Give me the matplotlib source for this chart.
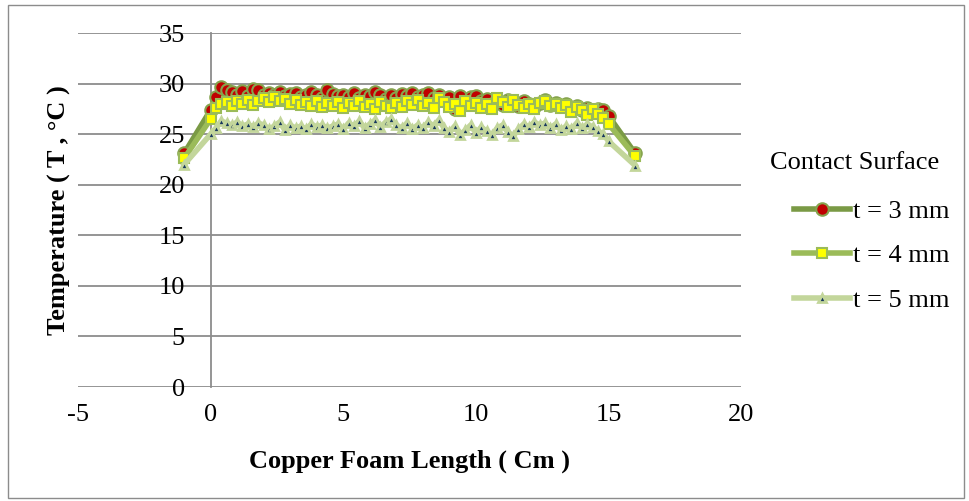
import matplotlib
matplotlib.use("Agg")
import matplotlib.pyplot as plt
from matplotlib.patches import Rectangle

plt.rcParams['font.family'] = ['Liberation Serif', 'DejaVu Serif']
plt.rcParams['axes.unicode_minus'] = False

# positions along the foam (cm)
x_pos = [-1.0,
         0.0, 0.2, 0.4, 0.6, 0.8, 1.0, 1.2, 1.4, 1.6, 1.8,
         2.0, 2.2, 2.4, 2.6, 2.8, 3.0, 3.2, 3.4, 3.6, 3.8,
         4.0, 4.2, 4.4, 4.6, 4.8, 5.0, 5.2, 5.4, 5.6, 5.8,
         6.0, 6.2, 6.4, 6.6, 6.8, 7.0, 7.2, 7.4, 7.6, 7.8,
         8.0, 8.2, 8.4, 8.6, 8.8, 9.0, 9.2, 9.4, 9.6, 9.8,
         10.0, 10.2, 10.4, 10.6, 10.8, 11.0, 11.2, 11.4, 11.6, 11.8,
         12.0, 12.2, 12.4, 12.6, 12.8, 13.0, 13.2, 13.4, 13.6, 13.8,
         14.0, 14.2, 14.4, 14.6, 14.8, 15.0,
         16.0]

# contact surface temperature (C) for each foam thickness
temp_3mm = [23.1,
            27.4, 28.7, 29.7, 29.4, 29.2, 28.9, 29.3, 28.8, 29.5, 29.4,
            28.9, 29.1, 28.9, 29.2, 28.8, 29.0, 29.1, 28.7, 28.9, 29.2,
            28.9, 28.6, 29.4, 29.0, 28.8, 28.9, 28.7, 29.1, 28.6, 28.9,
            28.8, 29.2, 28.9, 28.5, 28.9, 28.6, 29.0, 28.8, 29.1, 28.7,
            28.9, 29.1, 28.6, 28.9, 28.5, 28.7, 27.5, 28.8, 28.1, 28.7,
            28.8, 28.3, 28.5, 28.0, 28.4, 27.9, 28.4, 28.2, 27.8, 28.3,
            28.0, 27.7, 28.1, 28.4, 27.9, 28.1, 27.8, 28.0, 27.6, 27.8,
            27.4, 27.6, 27.4, 27.5, 27.4, 26.8,
            23.1]
temp_4mm = [22.6,
            26.5, 27.6, 28.0, 28.2, 27.8, 28.3, 28.0, 28.4, 27.9, 28.3,
            28.6, 28.2, 28.7, 28.3, 28.5, 28.0, 28.4, 27.9, 28.2, 27.8,
            28.3, 27.7, 28.1, 27.8, 28.2, 27.6, 28.1, 27.8, 28.3, 27.7,
            28.0, 27.5, 28.2, 27.8, 27.6, 28.1, 27.7, 28.3, 27.9, 28.4,
            27.8, 28.1, 27.6, 28.6, 28.2, 27.7, 28.0, 27.3, 28.3, 27.8,
            28.1, 27.6, 28.0, 27.5, 28.6, 28.2, 27.7, 28.4, 27.9, 27.6,
            28.0, 27.5, 28.1, 28.3, 27.8, 28.0, 27.6, 27.9, 27.2, 27.7,
            27.4, 26.9, 27.5, 27.0, 26.6, 26.0,
            22.8]
temp_5mm = [22.0,
            25.0, 25.6, 26.3, 26.1, 25.9, 26.2, 25.8, 26.0, 25.7, 26.1,
            25.9, 25.5, 25.8, 26.2, 25.4, 25.9, 25.6, 25.8, 25.5, 26.0,
            25.7, 25.9, 25.6, 25.8, 26.0, 25.5, 26.1, 25.8, 26.3, 25.6,
            26.0, 26.4, 25.7, 26.2, 26.5, 25.9, 25.6, 26.1, 25.5, 25.9,
            25.6, 26.2, 25.8, 26.4, 25.6, 25.2, 25.8, 24.9, 25.4, 25.9,
            25.1, 25.7, 25.3, 24.9, 25.6, 25.9, 25.2, 24.8, 25.5, 26.0,
            25.7, 26.2, 25.9, 26.1, 25.6, 26.0, 25.4, 25.8, 25.5, 26.1,
            25.6, 26.0, 25.7, 25.3, 25.0, 24.3,
            21.9]

series_labels = ['t = 3 mm', 't = 4 mm', 't = 5 mm']

fs = 19
fig = plt.figure(figsize=(9.69, 5.01), dpi=100)
ax = fig.add_axes([0.0805, 0.2275, 0.6845, 0.7065])

ax.plot(x_pos, temp_3mm, color='#7A9A45', lw=4, marker='o', ms=9,
        mfc='#C00000', mec='#86A34E', mew=1.5, solid_joinstyle='round',
        label=series_labels[0], zorder=3)
ax.plot(x_pos, temp_4mm, color='#9BBB59', lw=4, marker='s', ms=7,
        mfc='#FFFF00', mec='#9BBB59', mew=1.5, solid_joinstyle='round',
        label=series_labels[1], zorder=4)
ax.plot(x_pos, temp_5mm, color='#C3D69B', lw=4, marker='^', ms=6,
        mfc='#17375E', mec='#C3D69B', mew=2, solid_joinstyle='round',
        label=series_labels[2], zorder=5)

ax.set_xlim(-5, 20)
ax.set_ylim(0, 35)
ax.set_xticks([-5, 0, 5, 10, 15, 20])
ax.set_yticks(range(0, 36, 5))

grid_col = '#8C8C8C'
ax.yaxis.grid(True, color=grid_col, lw=1.3)
ax.set_axisbelow(True)
for side in ['top', 'right', 'bottom']:
    ax.spines[side].set_visible(False)
ax.spines['left'].set_position(('data', 0))
ax.spines['left'].set_color(grid_col)
ax.spines['left'].set_linewidth(1.3)
ax.tick_params(axis='both', length=0, labelsize=fs)
ax.tick_params(axis='x', pad=12.5)
ax.tick_params(axis='y', pad=18.5)

ax.set_xlabel('Copper Foam Length ( Cm )', fontsize=fs, fontweight='bold', labelpad=17)
fig.text(0.061, 0.5805, 'Temperature ( T , °C )', rotation=90, fontsize=fs,
         fontweight='bold', ha='center', va='center')

fig.text(0.7946, 0.675, 'Contact Surface', fontsize=fs, ha='left', va='center')
fig.legend(loc='upper left', bbox_to_anchor=(0.809, 0.623), frameon=False,
           fontsize=fs, handlelength=2.1, handletextpad=0.1, labelspacing=0.8,
           borderaxespad=0)

fig.patches.append(Rectangle((0.008, 0.006), 0.987, 0.985, transform=fig.transFigure,
                             fill=False, edgecolor='#8C8C8C', lw=1))

fig.savefig('out.png', dpi=100)
